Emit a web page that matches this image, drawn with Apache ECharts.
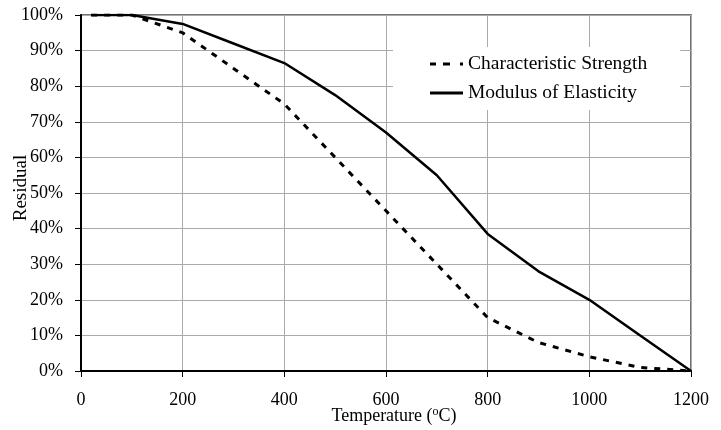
<!DOCTYPE html>
<html>
<head>
<meta charset="utf-8">
<script src="https://cdn.jsdelivr.net/npm/echarts@6/dist/echarts.min.js"></script>
<style>html,body{margin:0;padding:0;background:#fff}#c{width:721px;height:430px}</style>
</head>
<body>
<div id="c"></div>
<script>
var temperatures = [20, 100, 200, 300, 400, 500, 600, 700, 800, 900, 1000, 1100, 1200];
var strengthValues = [100, 100, 95, 85, 75, 60, 45, 30, 15, 8, 4, 1, 0];
var modulusValues = [100, 100, 97.5, 92, 86.5, 77.5, 67, 55, 38.5, 28, 20, 10, 0];
var seriesNames = ['Characteristic Strength', 'Modulus of Elasticity'];
var xTicks = [0, 200, 400, 600, 800, 1000, 1200];
var yTicks = [0, 10, 20, 30, 40, 50, 60, 70, 80, 90, 100];

function pairs(xs, ys) { return xs.map(function (x, i) { return [x, ys[i]]; }); }

var font = '"Liberation Serif", "Times New Roman", serif';
var chart = echarts.init(document.getElementById('c'));
chart.setOption({
  animation: false,
  backgroundColor: '#fff',
  textStyle: { fontFamily: font },
  grid: { left: 81, right: 30, top: 15, bottom: 59, containLabel: false, outerBoundsMode: 'none',
    show: true, borderColor: '#444', borderWidth: 1.5, backgroundColor: 'transparent' },
  legend: {
    left: 393, top: 47, orient: 'vertical',
    backgroundColor: '#fff',
    padding: [7, 33, 7, 37],
    itemGap: 9, itemWidth: 33, itemHeight: 3,
    textStyle: { fontFamily: font, fontSize: 19.5, color: '#000' },
    data: [
      { name: seriesNames[0], icon: 'path://M0,0h6v3h-6z M13,0h7v3h-7z M30,0h3v3h-3z' },
      { name: seriesNames[1], icon: 'path://M0,0h33v3h-33z' }
    ]
  },
  xAxis: {
    type: 'value', min: xTicks[0], max: xTicks[xTicks.length - 1], interval: 200,
    name: 'Temperature ({sup|o}C)', nameLocation: 'middle', nameGap: 35, nameMoveOverlap: false,
    nameTextStyle: { fontFamily: font, fontSize: 18, color: '#000', padding: [0, 0, 0, 16],
      rich: { sup: { fontFamily: font, fontSize: 12, color: '#000', padding: [0, 0, 8, 0] } } },
    axisLine: { show: true, onZero: false, lineStyle: { color: '#000', width: 2 } },
    axisTick: { show: true, inside: false, length: 6, lineStyle: { color: '#000', width: 1 } },
    axisLabel: { fontFamily: font, fontSize: 18, color: '#000', margin: 20,
      formatter: function (v) { return String(v); } },
    splitLine: { show: true, lineStyle: { color: '#aaa', width: 1 } }
  },
  yAxis: {
    type: 'value', min: yTicks[0], max: yTicks[yTicks.length - 1], interval: 10,
    name: 'Residual', nameLocation: 'middle', nameGap: 50, nameMoveOverlap: false,
    nameTextStyle: { fontFamily: font, fontSize: 19, color: '#000', padding: [0, 0, 0, 10] },
    axisLine: { show: true, lineStyle: { color: '#000', width: 2 } },
    axisTick: { show: true, inside: false, length: 6, lineStyle: { color: '#000', width: 1 } },
    axisLabel: { fontFamily: font, fontSize: 18, color: '#000', margin: 18, formatter: '{value}%' },
    splitLine: { show: true, lineStyle: { color: '#aaa', width: 1 } }
  },
  series: [
    { name: seriesNames[0], type: 'line', showSymbol: false, symbol: 'none',
      data: pairs(temperatures, strengthValues),
      lineStyle: { color: '#000', width: 3, type: [6, 7] }, itemStyle: { color: '#000' } },
    { name: seriesNames[1], type: 'line', showSymbol: false, symbol: 'none',
      data: pairs(temperatures, modulusValues),
      lineStyle: { color: '#000', width: 2.5 }, itemStyle: { color: '#000' } }
  ]
});
</script>
</body>
</html>
